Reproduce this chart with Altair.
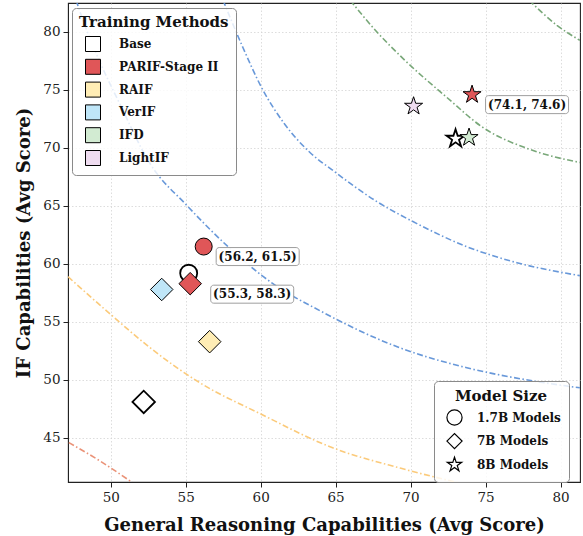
import math
import altair as alt
import pandas as pd

# ---------------- data ----------------
method_order = ["Base", "PARIF-Stage II", "RAIF", "VerIF", "IFD", "LightIF"]
method_colors = ["#ffffff", "#e05658", "#ffedb5", "#bfe6f8", "#d2ebd2", "#efdcf0"]
size_order = ["1.7B Models", "7B Models", "8B Models"]

pt_method = ["Base", "Base", "Base", "PARIF-Stage II", "PARIF-Stage II", "PARIF-Stage II",
             "RAIF", "VerIF", "IFD", "LightIF"]
pt_size = ["1.7B Models", "7B Models", "8B Models", "1.7B Models", "7B Models", "8B Models",
           "7B Models", "7B Models", "8B Models", "8B Models"]
pt_reason = [55.2, 52.2, 73.0, 56.2, 55.3, 74.1, 56.6, 53.4, 73.9, 70.2]
pt_if = [59.2, 48.1, 70.8, 61.5, 58.3, 74.6, 53.3, 57.8, 70.9, 73.6]

ann_x = [56.2, 55.3, 74.1]
ann_y = [61.5, 58.3, 74.6]
ann_text = ["(56.2, 61.5)", "(55.3, 58.3)", "(74.1, 74.6)"]

# iso-curves
salmon_x = [47.2, 49.3, 51.5]
salmon_y = [44.6, 43.0, 41.1]
yellow_x = [47.15, 49.95, 52.6, 55.95, 59.95, 64.8, 69.3, 73.3]
yellow_y = [58.9, 55.7, 52.8, 49.75, 47.1, 44.15, 42.4, 41.1]
blue1_x = [47.69, 48.15, 49.29, 50.62, 52.62, 55.09, 57.75, 60.82, 63.95, 69.29, 73.75, 78.15, 81.29]
blue1_y = [82.74, 81.01, 77.38, 73.76, 68.66, 65.03, 61.58, 58.30, 55.97, 52.77, 51.05, 49.92, 49.32]
blue2_x = [57.49, 58.75, 60.09, 61.62, 63.29, 64.82, 67.75, 70.42, 73.75, 77.09, 81.29]
blue2_y = [82.74, 78.86, 75.14, 72.03, 69.61, 68.06, 65.38, 63.48, 61.49, 60.11, 58.99]
green1_x = [65.97, 67.65, 69.62, 72.42, 74.82, 77.9, 81.29]
green1_y = [82.74, 80.15, 77.56, 74.36, 71.77, 69.9, 68.75]
green2_x = [77.9, 79.76, 81.29]
green2_y = [82.74, 80.58, 79.28]

curve_names = ["salmon", "yellow", "blue1", "blue2", "green1", "green2"]
curve_colors = ["#e8896b", "#fbc56f", "#5b8fd6", "#5b8fd6", "#6c9f6c", "#6c9f6c"]
curve_xs = [salmon_x, yellow_x, blue1_x, blue2_x, green1_x, green2_x]
curve_ys = [salmon_y, yellow_y, blue1_y, blue2_y, green1_y, green2_y]

x_ticks = [50, 55, 60, 65, 70, 75, 80]
y_ticks = [45, 50, 55, 60, 65, 70, 75, 80]
x_domain = [47.15, 81.3]
y_domain = [41.2, 82.5]

# marker styling per model size (pixel areas)
marker_sizes = {"1.7B Models": 289, "7B Models": 506, "8B Models": 361}

# ---------------- tables ----------------
rows = []
for name, xs_, ys_ in zip(curve_names, curve_xs, curve_ys):
    for i, (a, b) in enumerate(zip(xs_, ys_)):
        rows.append({"curve": name, "idx": i, "x": a, "y": b})
curve_df = pd.DataFrame(rows)

pts_df = pd.DataFrame({"method": pt_method, "model": pt_size, "x": pt_reason, "y": pt_if})
ann_df = pd.DataFrame({"x": ann_x, "y": ann_y, "label": ann_text})

# star symbol (unit coordinates)
star_pts = []
for k in range(10):
    ang = math.radians(-90 + 36 * k)
    r = 1.0 if k % 2 == 0 else 0.382
    star_pts.append(f"{r * math.cos(ang):.4f},{r * math.sin(ang):.4f}")
STAR = "M" + " L".join(star_pts) + " Z"

FONT = "DejaVu Serif"

xs = alt.Scale(domain=x_domain, nice=False, zero=False)
ys = alt.Scale(domain=y_domain, nice=False, zero=False)

x_axis = alt.Axis(values=x_ticks, title="General Reasoning Capabilities (Avg Score)", format="d",
                  titlePadding=13)
y_axis = alt.Axis(values=y_ticks, title="IF Capabilities (Avg Score)", format="d",
                  titlePadding=9)

curves = alt.Chart(curve_df).mark_line(
    strokeDash=[6, 2.5, 1.5, 2.5], strokeWidth=1.6, clip=True, interpolate="monotone", opacity=0.92
).encode(
    x=alt.X("x:Q", scale=xs, axis=x_axis),
    y=alt.Y("y:Q", scale=ys, axis=y_axis),
    stroke=alt.Stroke("curve:N", scale=alt.Scale(domain=curve_names, range=curve_colors), legend=None),
    detail="curve:N",
    order="idx:Q",
)

fill_enc = alt.Fill(
    "method:N", scale=alt.Scale(domain=method_order, range=method_colors),
    legend=alt.Legend(
        title="Training Methods", orient="none", legendX=4, legendY=5,
        symbolType="square", symbolSize=225, symbolStrokeColor="black",
        symbolStrokeWidth=1, symbolOffset=6, labelOffset=18, rowPadding=2.8,
        titlePadding=6, padding=7, cornerRadius=4,
        fillColor="rgba(255,255,255,0.82)", strokeColor="#8a8a8a",
        titleFontSize=15, labelFontSize=12))
shape_enc = alt.Shape(
    "model:N", scale=alt.Scale(domain=size_order, range=["circle", "diamond", STAR]),
    legend=alt.Legend(
        title="Model Size", orient="none", legendX=366, legendY=378,
        symbolSize=230, symbolStrokeColor="black", symbolFillColor="white",
        symbolStrokeWidth=1.2, symbolOffset=4, labelOffset=14, rowPadding=2.6,
        titlePadding=5, padding=8, cornerRadius=4, titleAnchor="middle",
        fillColor="rgba(255,255,255,0.82)", strokeColor="#8a8a8a",
        titleFontSize=15, labelFontSize=12))

point_layers = []
for m in size_order:
    for is_base in (True, False):
        test = f"datum.model === '{m}' && " + ("datum.method === 'Base'" if is_base else "datum.method !== 'Base'")
        lyr = alt.Chart(pts_df).transform_filter(test).mark_point(
            filled=True, stroke="black", opacity=1, fillOpacity=1,
            size=marker_sizes[m], strokeWidth=1.8 if is_base else 1.0
        ).encode(
            x=alt.X("x:Q", scale=xs),
            y=alt.Y("y:Q", scale=ys),
            fill=fill_enc,
            shape=shape_enc,
        )
        point_layers.append(lyr)

offsets = [(54, 10), (62, 10.5), (55, 10)]
ann_layers = []
for i, (dx, dy) in enumerate(offsets):
    sub = ann_df.iloc[[i]]
    box = alt.Chart(sub).mark_rect(
        width=83, height=18, xOffset=dx, yOffset=dy, fill="white", stroke="#9a9a9a",
        strokeWidth=1, cornerRadius=3, opacity=0.95
    ).encode(x=alt.X("x:Q", scale=xs), y=alt.Y("y:Q", scale=ys))
    txt = alt.Chart(sub).mark_text(
        font=FONT, fontWeight="bold", fontSize=12, color="#111", dx=dx, dy=dy,
        align="center", baseline="middle"
    ).encode(x=alt.X("x:Q", scale=xs), y=alt.Y("y:Q", scale=ys), text="label:N")
    ann_layers += [box, txt]

chart = alt.layer(curves, *point_layers, *ann_layers).properties(
    width=512, height=479,
    autosize=alt.AutoSizeParams(type="none"),
    padding={"left": 68, "top": 3, "right": 3, "bottom": 54},
).configure_view(
    stroke="#222", strokeWidth=1.1
).configure_axis(
    labelFont=FONT, labelFontSize=13.5, labelColor="#222", labelPadding=3,
    tickColor="#222", tickSize=5, domainColor="#222",
    titleFont=FONT, titleFontSize=18, titleFontWeight="bold", titleColor="#111",
    grid=True, gridColor="#d4d4d4", gridDash=[1.5, 2], gridWidth=0.8,
).configure_legend(
    titleFont=FONT, titleFontWeight="bold", titleColor="#111",
    labelFont=FONT, labelFontWeight="bold", labelColor="#111",
    symbolBaseFillColor="white", symbolBaseStrokeColor="black",
)

chart.save("out.html", embed_options={"renderer": "svg", "actions": False})
